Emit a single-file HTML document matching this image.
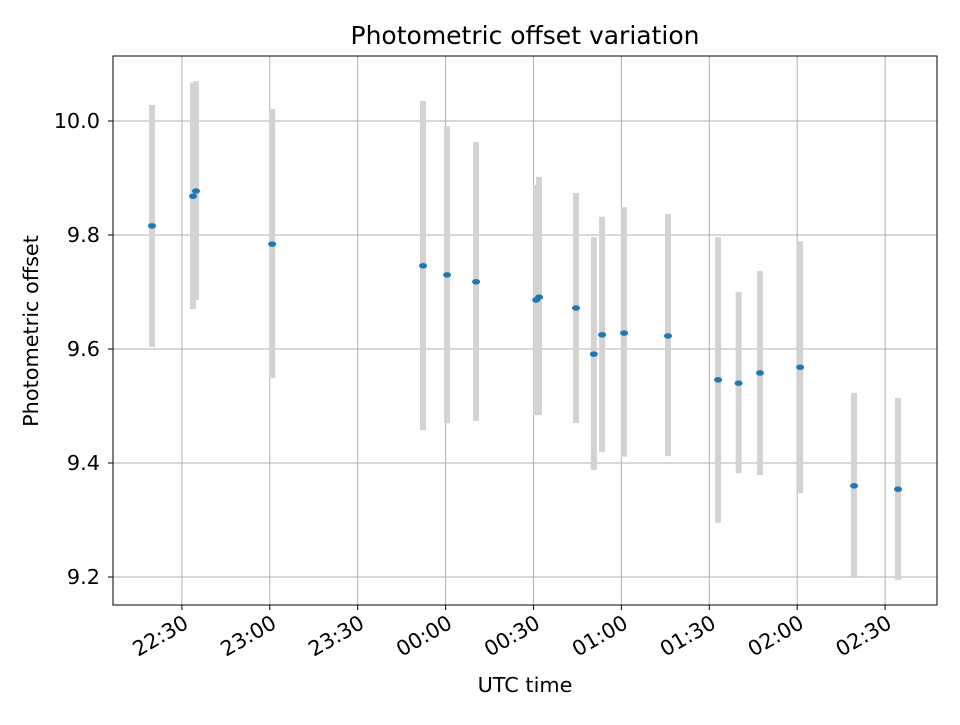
<!DOCTYPE html>
<html><head><meta charset="utf-8"><style>
body{margin:0;background:#fff;font-family:"Liberation Sans","DejaVu Sans",sans-serif}
svg text{font-family:"DejaVu Sans","Liberation Sans",sans-serif}
</style></head><body>
<svg id="chart" width="960" height="720" xmlns="http://www.w3.org/2000/svg">
<rect width="960" height="720" fill="#fff"/>
<g id="grid"></g>
<g id="bars"></g>
<g id="pts"></g>
<rect x="113" y="56" width="824" height="549" fill="none" stroke="#000" stroke-width="1"/>
<g id="axes"></g>
<text x="525" y="44" text-anchor="middle" style="font-size:25px">Photometric offset variation</text>
<text x="525" y="692" text-anchor="middle" style="font-size:20.8px">UTC time</text>
<text x="38" y="331" text-anchor="middle" style="font-size:20.8px" transform="rotate(-90 38 331)">Photometric offset</text>
</svg>
<script>
// minutes after 22:00 UTC
const times=[19.8,33.8,34.8,60.8,112.3,120.5,130.4,150.9,151.9,164.5,170.6,173.4,180.9,195.9,213,220,227.3,241,259.4,274.4];
const values=[9.816,9.868,9.877,9.784,9.746,9.730,9.718,9.686,9.691,9.672,9.591,9.625,9.628,9.623,9.546,9.540,9.558,9.568,9.360,9.354];
const errTop=[10.028,10.067,10.07,10.021,10.035,9.991,9.963,9.888,9.902,9.874,9.796,9.832,9.849,9.837,9.796,9.700,9.737,9.789,9.523,9.514];
const errBottom=[9.604,9.670,9.686,9.549,9.458,9.470,9.474,9.484,9.484,9.470,9.388,9.419,9.411,9.412,9.295,9.382,9.379,9.347,9.198,9.195];
const xTickMin=[30,60,90,120,150,180,210,240,270];
const xTickLabels=["22:30","23:00","23:30","00:00","00:30","01:00","01:30","02:00","02:30"];
const yTicks=[9.2,9.4,9.6,9.8,10.0];
const yTickLabels=["9.2","9.4","9.6","9.8","10.0"];
const NS="http://www.w3.org/2000/svg";
const X=m=>94+m*2.93;
const Y=v=>121+(10-v)*570;
function mk(tag,attrs,parent){const e=document.createElementNS(NS,tag);for(const k in attrs)e.setAttribute(k,attrs[k]);document.getElementById(parent).appendChild(e);return e;}
xTickMin.forEach((m,i)=>{
 const x=X(m);
 let g=mk('line',{x1:x,x2:x,y1:56,y2:605,stroke:'#b0b0b0','stroke-width':1},'grid');
 
 let t=mk('line',{x1:x,x2:x,y1:605,y2:610,stroke:'#000'},'axes');
 
 let l=mk('text',{x:x+8,y:627,'text-anchor':'end',style:'font-size:20.8px',transform:`rotate(-30 ${x+8} 627)`},'axes');
 l.textContent=xTickLabels[i];
 
});
yTicks.forEach((v,i)=>{
 const y=Y(v);
 let g=mk('line',{x1:113,x2:937,y1:y,y2:y,stroke:'#b0b0b0','stroke-width':1},'grid');
 
 let t=mk('line',{x1:108,x2:113,y1:y,y2:y,stroke:'#000'},'axes');
 
 let l=mk('text',{x:100,y:y+7,'text-anchor':'end',style:'font-size:20.8px'},'axes');
 l.textContent=yTickLabels[i];
 
});
times.forEach((m,i)=>{
 const x=X(m);
 let b=mk('line',{x1:x,x2:x,y1:Y(errTop[i]),y2:Y(errBottom[i]),stroke:'#d3d3d3','stroke-width':6},'bars');
 
 let p=mk('ellipse',{cx:x,cy:Y(values[i]),rx:4,ry:2.8,fill:'#1f77b4'},'pts');
 
});
</script>
</body></html>
